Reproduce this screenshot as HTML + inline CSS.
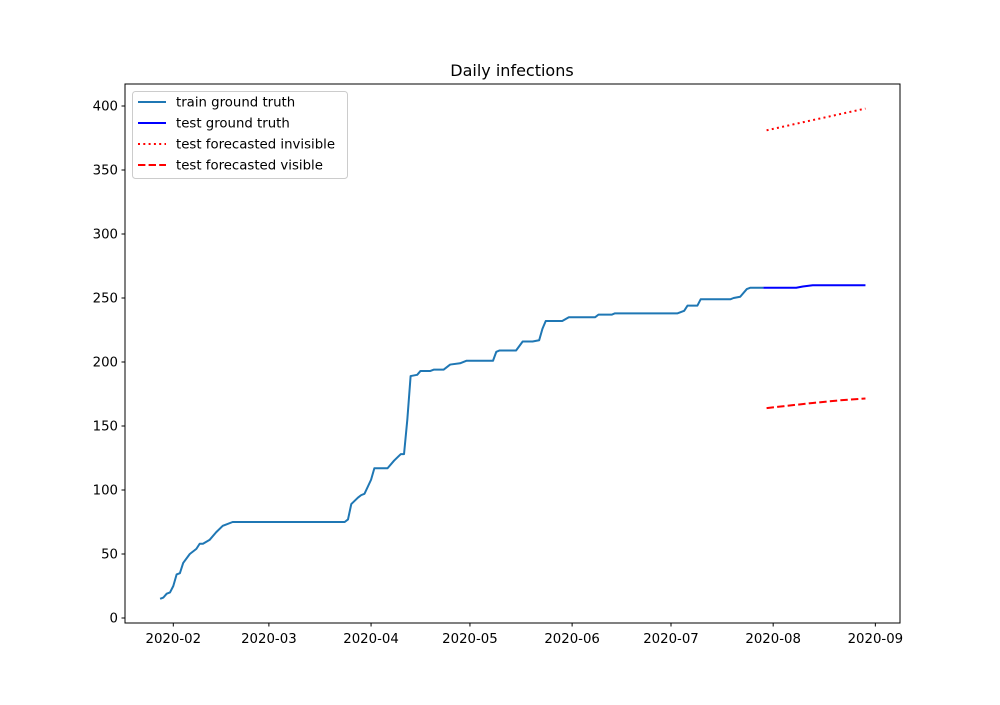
<!DOCTYPE html>
<html><head><meta charset="utf-8"><style>
body{margin:0;background:#fff}
svg text{font-family:"DejaVu Sans","Liberation Sans",sans-serif;fill:#000}
</style></head><body>
<svg id="chart" width="1000" height="700" xmlns="http://www.w3.org/2000/svg">
<rect width="1000" height="700" fill="#fff"/>
<text x="512" y="76" font-size="16" text-anchor="middle">Daily infections</text>
<g id="series"></g>
<rect x="125" y="84" width="775" height="539" fill="none" stroke="#000" stroke-width="1"/>
<g id="axes"></g>
<g id="legend">
<rect x="132.5" y="91.5" width="215" height="87" rx="3" fill="#fff" fill-opacity="0.8" stroke="#ccc"/>
</g>
</svg>
<script>
const trainDates=["2020-01-28","2020-01-29","2020-01-30","2020-01-31","2020-02-01","2020-02-02","2020-02-03","2020-02-04","2020-02-06","2020-02-08","2020-02-09","2020-02-10","2020-02-12","2020-02-14","2020-02-16","2020-02-17","2020-02-19","2020-03-24","2020-03-25","2020-03-26","2020-03-28","2020-03-29","2020-03-30","2020-04-01","2020-04-02","2020-04-06","2020-04-08","2020-04-10","2020-04-11","2020-04-12","2020-04-13","2020-04-15","2020-04-16","2020-04-19","2020-04-20","2020-04-23","2020-04-25","2020-04-28","2020-04-30","2020-05-08","2020-05-09","2020-05-10","2020-05-15","2020-05-17","2020-05-20","2020-05-22","2020-05-23","2020-05-24","2020-05-29","2020-05-31","2020-06-08","2020-06-09","2020-06-13","2020-06-14","2020-07-03","2020-07-05","2020-07-06","2020-07-09","2020-07-10","2020-07-19","2020-07-20","2020-07-22","2020-07-24","2020-07-25","2020-07-29"];
const trainValues=[15,16,19,20,25,34,35,43,50,54,58,58,61,67,72,73,75,75,77,89,94,96,97,108,117,117,123,128,128,155,189,190,193,193,194,194,198,199,201,201,208,209,209,216,216,217,226,232,232,235,235,237,237,238,238,240,244,244,249,249,250,251,257,258,258];
const testDates=["2020-07-29","2020-08-08","2020-08-10","2020-08-13","2020-08-29"];
const testValues=[258,258,259,260,260];
const fcDates=["2020-07-30","2020-08-06","2020-08-13","2020-08-21","2020-08-29"];
const fcInvisible=[381,385,389,393.5,398];
const fcVisible=[164,166,168,170,171.5];
const yTicks=[0,50,100,150,200,250,300,350,400];
const xTicks=["2020-02","2020-03","2020-04","2020-05","2020-06","2020-07","2020-08","2020-09"];

const NS="http://www.w3.org/2000/svg";
const d0=Date.UTC(2020,1,1);
function day(s){const p=s.split("-");return (Date.UTC(+p[0],+p[1]-1,p[2]?+p[2]:1)-d0)/86400000;}
function X(s){return 173.3+day(s)*3.296;}
function Y(v){return 618-v*1.28;}
function mk(tag,attrs,parent){const e=document.createElementNS(NS,tag);for(const k in attrs)e.setAttribute(k,attrs[k]);parent.appendChild(e);return e;}
const axes=document.getElementById("axes"),series=document.getElementById("series"),legend=document.getElementById("legend");
yTicks.forEach(v=>{
  const y=Y(v);
  const t=mk("line",{x1:125,x2:121.5,y1:y,y2:y,stroke:"#000"},axes);
  
  
  const l=mk("text",{x:118,y:y+4.5,"font-size":"13.3","text-anchor":"end"},axes);l.textContent=v;
  
  
});
xTicks.forEach(s=>{
  const x=X(s);
  const t=mk("line",{x1:x,x2:x,y1:623,y2:626.5,stroke:"#000"},axes);
  
  
  const l=mk("text",{x:x,y:643,"font-size":"13.3","text-anchor":"middle"},axes);l.textContent=s;
  
  
});
function line(dates,vals,color,dash,name){
  const pts=dates.map((d,i)=>X(d).toFixed(2)+","+Y(vals[i]).toFixed(2)).join(" ");
  const p=mk("polyline",{points:pts,fill:"none",stroke:color,"stroke-width":2,"stroke-linejoin":"round"},series);
  if(dash)p.setAttribute("stroke-dasharray",dash);
  
  
}
line(trainDates,trainValues,"#1f77b4",null,"train-ground-truth-line");
line(testDates,testValues,"#0000ff",null,"test-ground-truth-line");
line(fcDates,fcInvisible,"#ff0000","2,3.3","test-forecasted-invisible-line");
line(fcDates,fcVisible,"#ff0000","7.4,3.2","test-forecasted-visible-line");
const leg=[["train ground truth","#1f77b4",null],["test ground truth","#0000ff",null],["test forecasted invisible","#ff0000","2,3.3"],["test forecasted visible","#ff0000","7.4,3.2"]];
leg.forEach((e,i)=>{
  const y=102+i*21;
  const g=mk("g",{},legend);
  
  
  const l=mk("line",{x1:138,x2:166,y1:y,y2:y,stroke:e[1],"stroke-width":2},g);
  if(e[2])l.setAttribute("stroke-dasharray",e[2]);
  const t=mk("text",{x:176,y:y+4.5,"font-size":"13.3"},g);t.textContent=e[0];
});
</script>
</body></html>
